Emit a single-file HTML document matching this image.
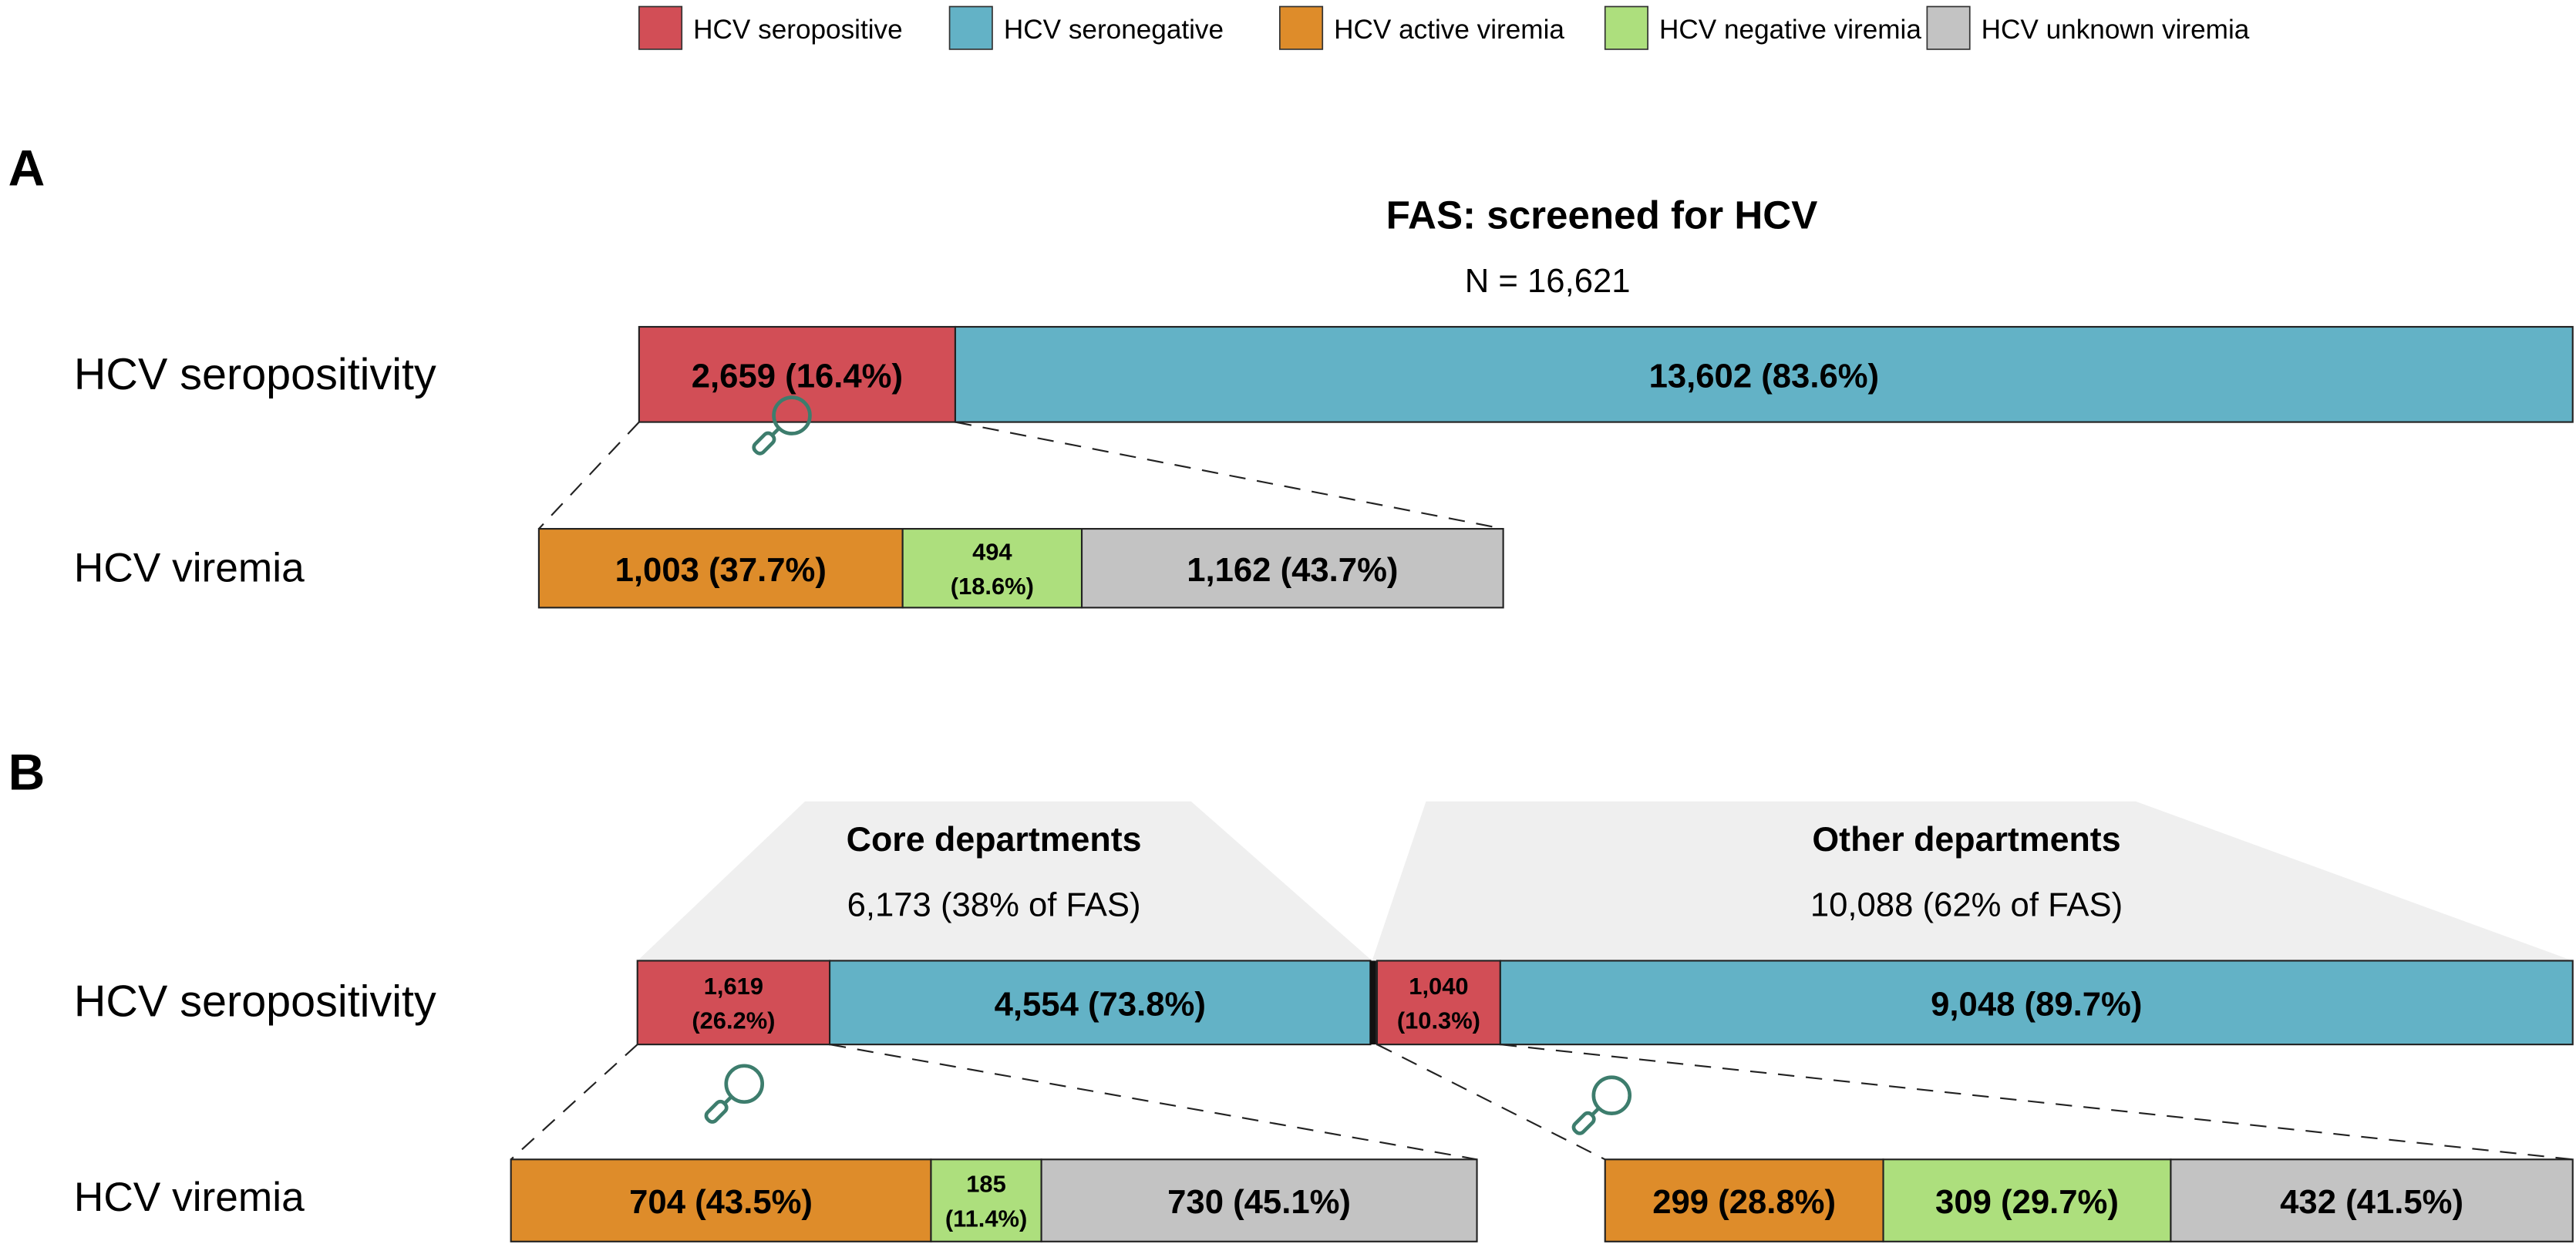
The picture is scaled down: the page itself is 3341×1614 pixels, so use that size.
<!DOCTYPE html>
<html><head><meta charset="utf-8"><style>
html,body{margin:0;padding:0;background:#fff;}
svg{display:block;font-family:"Liberation Sans",Calibri,sans-serif;}
</style></head><body>
<svg id="c" width="3341" height="1614" viewBox="0 0 1568 757.5" preserveAspectRatio="none"></svg>
<script>
const legendLabels=["HCV seropositive","HCV seronegative","HCV active viremia","HCV negative viremia","HCV unknown viremia"];
const colors=["#d24e56","#63b2c6","#de8c2a","#addf7d","#c3c3c3"];
const aSero=[2659,13602];
const aSeroPct=["16.4%","83.6%"];
const aVir=[1003,494,1162];
const aVirPct=["37.7%","18.6%","43.7%"];
const coreSero=[1619,4554];
const coreSeroPct=["26.2%","73.8%"];
const otherSero=[1040,9048];
const otherSeroPct=["10.3%","89.7%"];
const coreVir=[704,185,730];
const coreVirPct=["43.5%","11.4%","45.1%"];
const otherVir=[299,309,432];
const otherVirPct=["28.8%","29.7%","41.5%"];
const fasTotal=16261;

const NS="http://www.w3.org/2000/svg";
const svg=document.getElementById('c');
function el(t,a,p){const e=document.createElementNS(NS,t);for(const k in a)e.setAttribute(k,a[k]);(p||svg).appendChild(e);return e;}
function txt(x,y,s,size,bold,anchor,name){const t=el('text',{x:x,y:y,'font-size':size,'font-weight':bold?'bold':'normal','text-anchor':anchor||'start','dominant-baseline':'central',fill:'#000'});t.textContent=s;

return t;}
const fmt=v=>v.toLocaleString('en-US');

// legend
const lx=[389,578,779,977,1173];
legendLabels.forEach((l,i)=>{
 const r=el('rect',{x:lx[i],y:4,width:26,height:26,fill:colors[i],stroke:'#333','stroke-width':0.8});
 
 
 txt(lx[i]+33,18,l,16.5,false,'start','legend-entry-'+i);
});

function bar(vals,pcts,x0,x1,y,h,cols,name,small){
 const tot=vals.reduce((a,b)=>a+b,0);let x=x0;const edges=[x0];
 vals.forEach((v,i)=>{const w=(x1-x0)*v/tot;
  const r=el('rect',{x:x,y:y,width:w,height:h,fill:cols[i],stroke:'#222','stroke-width':1});
  
  
  const cx=x+w/2,cy=y+h/2;
  if(small&&small[i]){txt(cx,cy-10,fmt(v),14.5,true,'middle',name+'-label-'+i);txt(cx,cy+11,'('+pcts[i]+')',14.5,true,'middle',name+'-pct-'+i);}
  else txt(cx,cy+1,fmt(v)+' ('+pcts[i]+')',20.5,true,'middle',name+'-label-'+i);
  x+=w;edges.push(x);});
 return edges;
}
function dash(x1,y1,x2,y2,n){const l=el('line',{x1:x1,y1:y1,x2:x2,y2:y2,stroke:'#222','stroke-width':1,'stroke-dasharray':'10,7'});
 }
function mag(cx,cy,n){const g=el('g',{stroke:'#3d7d6d','stroke-width':2.2,fill:'none'});
 
 el('circle',{cx:cx,cy:cy,r:11},g);
 el('line',{x1:cx-8,y1:cy+8,x2:cx-12,y2:cy+12},g);
 el('rect',{x:-3.5,y:0,width:7,height:14,rx:3,transform:`translate(${cx-12},${cy+12}) rotate(45)`},g);}

// Panel A
txt(5,102,'A',31,true,'start','panel-a-label');
txt(975,131,'FAS: screened for HCV',24,true,'middle','fas-title');
txt(942,171,'N = 16,621',20.5,false,'middle','fas-n');
txt(45,228,'HCV seropositivity',27,false,'start','a-sero-row-label');
txt(45,346,'HCV viremia',25,false,'start','a-vir-row-label');
const eA=bar(aSero,aSeroPct,389,1566,199,58,colors.slice(0,2),'a-sero');
bar(aVir,aVirPct,328,915,322,48,colors.slice(2),'a-vir',[false,true,false]);
dash(eA[0],257,328,322,'a-dash-left');dash(eA[1],257,915,322,'a-dash-right');
mag(482,253,'a-magnifier');

// Panel B
txt(5,470,'B',31,true,'start','panel-b-label');
const split=388+(1566-388)*coreSero.reduce((a,b)=>a+b,0)/fasTotal;
let tp=el('polygon',{points:`490,488 725,488 ${split},585 388,585`,fill:'#efefef'});

tp=el('polygon',{points:`868,488 1300,488 1566,585 ${split},585`,fill:'#efefef'});

txt(605,511,'Core departments',21,true,'middle','core-title');
txt(605,551,'6,173 (38% of FAS)',20.5,false,'middle','core-n');
txt(1197,511,'Other departments',21,true,'middle','other-title');
txt(1197,551,'10,088 (62% of FAS)',20.5,false,'middle','other-n');
txt(45,610,'HCV seropositivity',27,false,'start','b-sero-row-label');
txt(45,729,'HCV viremia',25,false,'start','b-vir-row-label');
const eC=bar(coreSero,coreSeroPct,388,split-1,585,51,colors.slice(0,2),'core-sero',[true,false]);
const eO=bar(otherSero,otherSeroPct,split+3,1566,585,51,colors.slice(0,2),'other-sero',[true,false]);
const dv=el('rect',{x:split-1.5,y:585,width:4,height:51,fill:'#111'});

bar(coreVir,coreVirPct,311,899,706,50,colors.slice(2),'core-vir',[false,true,false]);
bar(otherVir,otherVirPct,977,1566,706,50,colors.slice(2),'other-vir');
dash(eC[0],636,311,706,'core-dash-left');dash(eC[1],636,899,706,'core-dash-right');
dash(eO[0],636,977,706,'other-dash-left');dash(eO[1],636,1566,706,'other-dash-right');
mag(453,660,'core-magnifier');mag(981,667,'other-magnifier');
</script>
</body></html>
